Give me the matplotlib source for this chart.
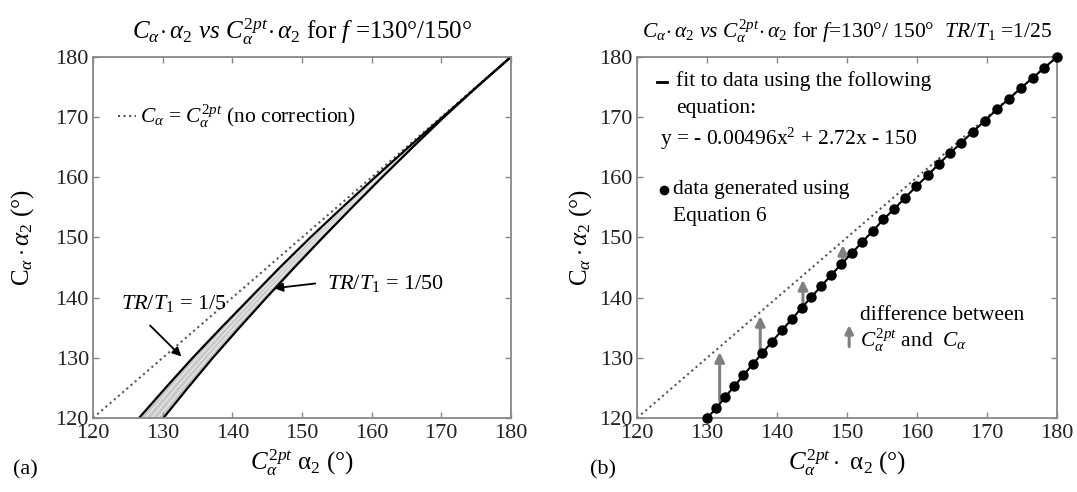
import matplotlib
matplotlib.use('Agg')
import matplotlib.pyplot as plt

plt.rcParams['font.family'] = ['Liberation Serif', 'DejaVu Serif']
plt.rcParams['mathtext.fontset'] = 'custom'
plt.rcParams['mathtext.rm'] = 'Liberation Serif'
plt.rcParams['mathtext.it'] = 'Liberation Serif:italic'
plt.rcParams['mathtext.bf'] = 'Liberation Serif:bold'

# ---- panel (a) data: x position of each curve at given y levels
band_y = [120, 125, 130, 135, 140, 145, 150, 155, 160, 165, 170, 175, 180]
curve_1_5 = [126.6, 130.4, 134.3, 138.4, 142.6, 146.8, 151.2, 155.8, 160.5, 165.3, 170.2, 175.1, 180.0]
curve_mid1 = [127.5, 131.2, 135.0, 139.0, 143.1, 147.3, 151.6, 156.1, 160.7, 165.4, 170.2, 175.1, 180.0]
curve_mid2 = [128.4, 132.0, 135.8, 139.7, 143.7, 147.8, 152.1, 156.5, 161.0, 165.6, 170.3, 175.1, 180.0]
curve_mid3 = [129.3, 132.8, 136.5, 140.3, 144.3, 148.3, 152.5, 156.9, 161.3, 165.8, 170.4, 175.1, 180.0]
curve_1_50 = [130.1, 133.6, 137.2, 141.0, 144.9, 148.9, 153.0, 157.2, 161.5, 165.9, 170.4, 175.1, 180.0]
diag = [120, 180]

# ---- panel (b) data: points from equation 6 (TR/T1 = 1/25)
data_x = [130.0, 131.3, 132.6, 133.9, 135.2, 136.5, 137.9, 139.3, 140.7, 142.1, 143.5,
          144.9, 146.3, 147.7, 149.2, 150.7, 152.2, 153.7, 155.2, 156.7, 158.3, 159.9,
          161.5, 163.1, 164.7, 166.3, 168.0, 169.7, 171.4, 173.1, 174.8, 176.5, 178.2, 180.0]
data_y = [120.0, 121.6, 123.5, 125.3, 127.1, 128.9, 130.8, 132.7, 134.6, 136.4, 138.3,
          140.1, 141.9, 143.7, 145.6, 147.4, 149.3, 151.1, 153.0, 154.7, 156.6, 158.5,
          160.3, 162.2, 164.0, 165.7, 167.6, 169.4, 171.3, 173.0, 174.8, 176.5, 178.2, 180.0]
# difference arrows: x, start (on data), end (near no-correction line)
arrow_x = [131.8, 137.6, 143.7, 149.4]
arrow_y0 = [122.3, 130.6, 138.5, 145.9]
arrow_y1 = [131.4, 137.4, 143.4, 149.2]

ticks = [120, 130, 140, 150, 160, 170, 180]
spine_col = '#888888'
dot_col = '#555555'
arrow_col = '#808080'


def style_axes(ax):
    ax.set_xlim(120, 180)
    ax.set_ylim(120, 180)
    ax.set_xticks(ticks)
    ax.set_yticks(ticks)
    ax.tick_params(direction='in', top=True, right=True, length=4, width=1,
                   color=spine_col, labelsize=16, labelcolor='#222222', pad=3)
    ax.tick_params(axis='x', pad=4)
    for s in ax.spines.values():
        s.set_color(spine_col)
        s.set_linewidth(1.3)


fig = plt.figure(figsize=(10.77, 4.92), dpi=100)

# ---------------- (a)
ax1 = fig.add_axes([0.0864, 0.1504, 0.388, 0.734])
style_axes(ax1)
ax1.plot(diag, diag, ':', color=dot_col, lw=1.5)
ax1.fill_betweenx(band_y, curve_1_5, curve_1_50, color='#c8c8c8', lw=0)
for c in [curve_mid1, curve_mid2, curve_mid3]:
    ax1.plot(c, band_y, color='#ececec', lw=0.8)
ax1.plot(curve_1_5, band_y, color='black', lw=1.6)
ax1.plot(curve_1_50, band_y, color='black', lw=1.6)

# legend-like text for the no-correction line
ax1.plot([123.6, 126.1], [170.2, 170.2], ':', color=dot_col, lw=1.5)
ax1.text(126.7, 170.2, r'$C_{\alpha}$ = $C_{\alpha}^{2pt}$ (no correction)',
         fontsize=15.5, va='center', ha='left')

ax1.annotate('', xy=(132.96, 129.9), xytext=(127.9, 135.7),
             arrowprops=dict(arrowstyle='-|>', color='black', lw=1.3, mutation_scale=13))
ax1.text(124.0, 139.1, r'$TR/T_{1}$ = 1/5', fontsize=16, va='center', ha='left')
ax1.annotate('', xy=(145.6, 141.5), xytext=(152.3, 142.4),
             arrowprops=dict(arrowstyle='-|>', color='black', lw=1.3, mutation_scale=13))
ax1.text(153.6, 142.4, r'$TR/T_{1}$ = 1/50', fontsize=16, va='center', ha='left')

ax1.set_title(r'$C_{\alpha}\!\cdot\alpha_{2}$ $vs$ $C_{\alpha}^{2pt}\!\cdot\alpha_{2}$ for $f$ =130°/150°',
              fontsize=18, pad=13)
ax1.set_xlabel(r'$C_{\alpha}^{2pt}$ $\mathrm{\alpha}_{2}$ (°)', fontsize=18, labelpad=3)
ax1.set_ylabel(r'$\mathrm{C}_{\alpha}\cdot\alpha_{2}$ (°)', fontsize=18, labelpad=14)

# ---------------- (b)
ax2 = fig.add_axes([0.5915, 0.1504, 0.390, 0.734])
style_axes(ax2)
ax2.plot(diag, diag, ':', color=dot_col, lw=1.5)
ax2.plot(data_x, data_y, '-o', color='black', lw=1.5, markersize=6.5, clip_on=False, zorder=4)
for x, y0, y1 in zip(arrow_x, arrow_y0, arrow_y1):
    ax2.annotate('', xy=(x, y1), xytext=(x, y0),
                 arrowprops=dict(arrowstyle='-|>', color=arrow_col, lw=2.2, mutation_scale=14))

# legend-like text block
ax2.plot([122.8, 124.3], [175.9, 175.9], color='black', lw=2)
ax2.text(125.6, 176.0, 'fit to data using the following', fontsize=15.5, va='center')
ax2.text(125.6, 171.5, 'equation:', fontsize=15.5, va='center')
ax2.text(123.3, 166.4, r'y = - 0.00496x$^{2}$ + 2.72x - 150', fontsize=15.5, va='center')
ax2.plot([123.9], [157.9], 'o', color='black', markersize=6)
ax2.text(125.2, 157.9, 'data generated using', fontsize=15.5, va='center')
ax2.text(125.2, 153.5, 'Equation 6', fontsize=15.5, va='center')

ax2.annotate('', xy=(150.3, 135.9), xytext=(150.3, 131.4),
             arrowprops=dict(arrowstyle='-|>', color=arrow_col, lw=2.2, mutation_scale=12))
ax2.text(151.8, 137.1, 'difference between', fontsize=15.5, va='center')
ax2.text(151.8, 132.9, r'$C_{\alpha}^{2pt}$ and  $C_{\alpha}$', fontsize=15.5, va='center')

ax2.set_title(r'$C_{\alpha}\!\cdot\alpha_{2}$ $vs$ $C_{\alpha}^{2pt}\!\cdot\alpha_{2}$ for '
              r'$\mathit{f}$=$\mathit{130°/\ 150°}$  $TR/T_{1}$ =1/25',
              fontsize=15.5, pad=14)
ax2.set_xlabel(r'$C_{\alpha}^{2pt}\cdot$ $\mathrm{\alpha}_{2}$ (°)', fontsize=18, labelpad=3)
ax2.set_ylabel(r'$\mathrm{C}_{\alpha}\cdot\alpha_{2}$ (°)', fontsize=18, labelpad=4)

fig.text(0.012, 0.035, '(a)', fontsize=16)
fig.text(0.548, 0.035, '(b)', fontsize=16)

fig.savefig('out.png', dpi=100)
